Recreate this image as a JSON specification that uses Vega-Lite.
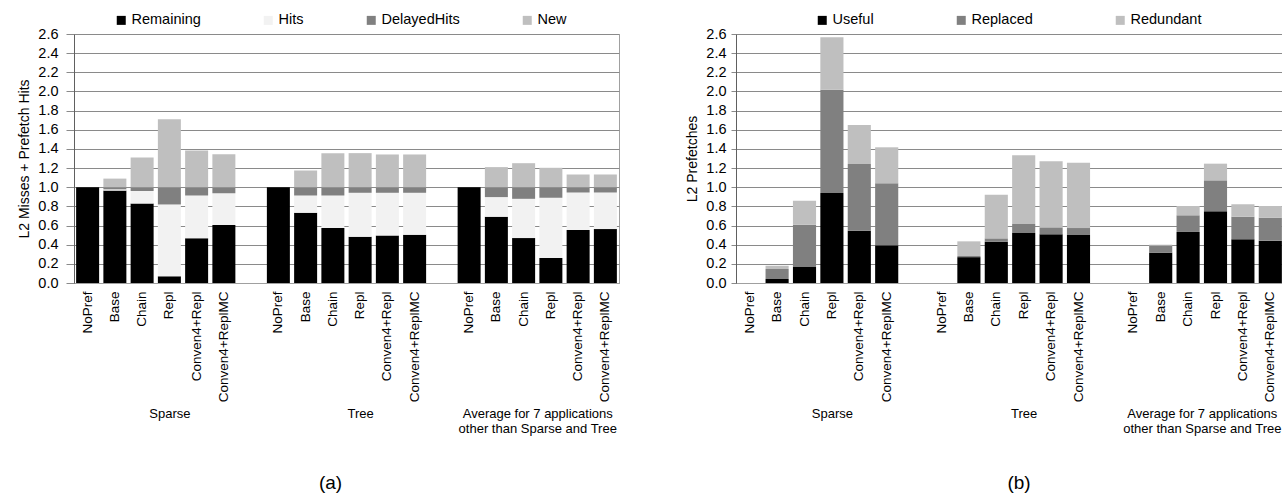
{
  "$schema": "https://vega.github.io/schema/vega-lite/v6.json",
  "padding": {"left": 17, "top": 12, "right": 0, "bottom": 0},
  "spacing": 65,
  "resolve": {"scale": {"color": "independent"}, "legend": {"color": "independent"}},
  "datasets": {
    "a": [
      {"app": "Sparse", "cfg": "NoPref", "part": "Remaining", "value": 1.0},
      {"app": "Sparse", "cfg": "Base", "part": "Remaining", "value": 0.965},
      {"app": "Sparse", "cfg": "Base", "part": "Hits", "value": 0.013},
      {"app": "Sparse", "cfg": "Base", "part": "DelayedHits", "value": 0.022},
      {"app": "Sparse", "cfg": "Base", "part": "New", "value": 0.09},
      {"app": "Sparse", "cfg": "Chain", "part": "Remaining", "value": 0.83},
      {"app": "Sparse", "cfg": "Chain", "part": "Hits", "value": 0.13},
      {"app": "Sparse", "cfg": "Chain", "part": "DelayedHits", "value": 0.04},
      {"app": "Sparse", "cfg": "Chain", "part": "New", "value": 0.31},
      {"app": "Sparse", "cfg": "Repl", "part": "Remaining", "value": 0.07},
      {"app": "Sparse", "cfg": "Repl", "part": "Hits", "value": 0.75},
      {"app": "Sparse", "cfg": "Repl", "part": "DelayedHits", "value": 0.18},
      {"app": "Sparse", "cfg": "Repl", "part": "New", "value": 0.71},
      {"app": "Sparse", "cfg": "Conven4+Repl", "part": "Remaining", "value": 0.466},
      {"app": "Sparse", "cfg": "Conven4+Repl", "part": "Hits", "value": 0.448},
      {"app": "Sparse", "cfg": "Conven4+Repl", "part": "DelayedHits", "value": 0.086},
      {"app": "Sparse", "cfg": "Conven4+Repl", "part": "New", "value": 0.383},
      {"app": "Sparse", "cfg": "Conven4+ReplMC", "part": "Remaining", "value": 0.605},
      {"app": "Sparse", "cfg": "Conven4+ReplMC", "part": "Hits", "value": 0.333},
      {"app": "Sparse", "cfg": "Conven4+ReplMC", "part": "DelayedHits", "value": 0.062},
      {"app": "Sparse", "cfg": "Conven4+ReplMC", "part": "New", "value": 0.345},
      {"app": "Tree", "cfg": "NoPref", "part": "Remaining", "value": 1.0},
      {"app": "Tree", "cfg": "Base", "part": "Remaining", "value": 0.733},
      {"app": "Tree", "cfg": "Base", "part": "Hits", "value": 0.181},
      {"app": "Tree", "cfg": "Base", "part": "DelayedHits", "value": 0.086},
      {"app": "Tree", "cfg": "Base", "part": "New", "value": 0.175},
      {"app": "Tree", "cfg": "Chain", "part": "Remaining", "value": 0.574},
      {"app": "Tree", "cfg": "Chain", "part": "Hits", "value": 0.34},
      {"app": "Tree", "cfg": "Chain", "part": "DelayedHits", "value": 0.086},
      {"app": "Tree", "cfg": "Chain", "part": "New", "value": 0.356},
      {"app": "Tree", "cfg": "Repl", "part": "Remaining", "value": 0.483},
      {"app": "Tree", "cfg": "Repl", "part": "Hits", "value": 0.459},
      {"app": "Tree", "cfg": "Repl", "part": "DelayedHits", "value": 0.058},
      {"app": "Tree", "cfg": "Repl", "part": "New", "value": 0.356},
      {"app": "Tree", "cfg": "Conven4+Repl", "part": "Remaining", "value": 0.497},
      {"app": "Tree", "cfg": "Conven4+Repl", "part": "Hits", "value": 0.445},
      {"app": "Tree", "cfg": "Conven4+Repl", "part": "DelayedHits", "value": 0.058},
      {"app": "Tree", "cfg": "Conven4+Repl", "part": "New", "value": 0.342},
      {"app": "Tree", "cfg": "Conven4+ReplMC", "part": "Remaining", "value": 0.504},
      {"app": "Tree", "cfg": "Conven4+ReplMC", "part": "Hits", "value": 0.438},
      {"app": "Tree", "cfg": "Conven4+ReplMC", "part": "DelayedHits", "value": 0.058},
      {"app": "Tree", "cfg": "Conven4+ReplMC", "part": "New", "value": 0.342},
      {"app": "Avg", "cfg": "NoPref", "part": "Remaining", "value": 1.0},
      {"app": "Avg", "cfg": "Base", "part": "Remaining", "value": 0.692},
      {"app": "Avg", "cfg": "Base", "part": "Hits", "value": 0.205},
      {"app": "Avg", "cfg": "Base", "part": "DelayedHits", "value": 0.103},
      {"app": "Avg", "cfg": "Base", "part": "New", "value": 0.21},
      {"app": "Avg", "cfg": "Chain", "part": "Remaining", "value": 0.469},
      {"app": "Avg", "cfg": "Chain", "part": "Hits", "value": 0.41},
      {"app": "Avg", "cfg": "Chain", "part": "DelayedHits", "value": 0.121},
      {"app": "Avg", "cfg": "Chain", "part": "New", "value": 0.251},
      {"app": "Avg", "cfg": "Repl", "part": "Remaining", "value": 0.261},
      {"app": "Avg", "cfg": "Repl", "part": "Hits", "value": 0.629},
      {"app": "Avg", "cfg": "Repl", "part": "DelayedHits", "value": 0.11},
      {"app": "Avg", "cfg": "Repl", "part": "New", "value": 0.203},
      {"app": "Avg", "cfg": "Conven4+Repl", "part": "Remaining", "value": 0.553},
      {"app": "Avg", "cfg": "Conven4+Repl", "part": "Hits", "value": 0.392},
      {"app": "Avg", "cfg": "Conven4+Repl", "part": "DelayedHits", "value": 0.055},
      {"app": "Avg", "cfg": "Conven4+Repl", "part": "New", "value": 0.133},
      {"app": "Avg", "cfg": "Conven4+ReplMC", "part": "Remaining", "value": 0.563},
      {"app": "Avg", "cfg": "Conven4+ReplMC", "part": "Hits", "value": 0.382},
      {"app": "Avg", "cfg": "Conven4+ReplMC", "part": "DelayedHits", "value": 0.055},
      {"app": "Avg", "cfg": "Conven4+ReplMC", "part": "New", "value": 0.133}
    ],
    "b": [
      {"app": "Sparse", "cfg": "Base", "part": "Useful", "value": 0.042},
      {"app": "Sparse", "cfg": "Base", "part": "Replaced", "value": 0.104},
      {"app": "Sparse", "cfg": "Base", "part": "Redundant", "value": 0.035},
      {"app": "Sparse", "cfg": "Chain", "part": "Useful", "value": 0.167},
      {"app": "Sparse", "cfg": "Chain", "part": "Replaced", "value": 0.442},
      {"app": "Sparse", "cfg": "Chain", "part": "Redundant", "value": 0.251},
      {"app": "Sparse", "cfg": "Repl", "part": "Useful", "value": 0.94},
      {"app": "Sparse", "cfg": "Repl", "part": "Replaced", "value": 1.079},
      {"app": "Sparse", "cfg": "Repl", "part": "Redundant", "value": 0.546},
      {"app": "Sparse", "cfg": "Conven4+Repl", "part": "Useful", "value": 0.546},
      {"app": "Sparse", "cfg": "Conven4+Repl", "part": "Replaced", "value": 0.697},
      {"app": "Sparse", "cfg": "Conven4+Repl", "part": "Redundant", "value": 0.407},
      {"app": "Sparse", "cfg": "Conven4+ReplMC", "part": "Useful", "value": 0.393},
      {"app": "Sparse", "cfg": "Conven4+ReplMC", "part": "Replaced", "value": 0.648},
      {"app": "Sparse", "cfg": "Conven4+ReplMC", "part": "Redundant", "value": 0.376},
      {"app": "Tree", "cfg": "Base", "part": "Useful", "value": 0.27},
      {"app": "Tree", "cfg": "Base", "part": "Replaced", "value": 0.012},
      {"app": "Tree", "cfg": "Base", "part": "Redundant", "value": 0.153},
      {"app": "Tree", "cfg": "Chain", "part": "Useful", "value": 0.43},
      {"app": "Tree", "cfg": "Chain", "part": "Replaced", "value": 0.036},
      {"app": "Tree", "cfg": "Chain", "part": "Redundant", "value": 0.456},
      {"app": "Tree", "cfg": "Repl", "part": "Useful", "value": 0.522},
      {"app": "Tree", "cfg": "Repl", "part": "Replaced", "value": 0.094},
      {"app": "Tree", "cfg": "Repl", "part": "Redundant", "value": 0.717},
      {"app": "Tree", "cfg": "Conven4+Repl", "part": "Useful", "value": 0.508},
      {"app": "Tree", "cfg": "Conven4+Repl", "part": "Replaced", "value": 0.073},
      {"app": "Tree", "cfg": "Conven4+Repl", "part": "Redundant", "value": 0.689},
      {"app": "Tree", "cfg": "Conven4+ReplMC", "part": "Useful", "value": 0.501},
      {"app": "Tree", "cfg": "Conven4+ReplMC", "part": "Replaced", "value": 0.073},
      {"app": "Tree", "cfg": "Conven4+ReplMC", "part": "Redundant", "value": 0.682},
      {"app": "Avg", "cfg": "Base", "part": "Useful", "value": 0.317},
      {"app": "Avg", "cfg": "Base", "part": "Replaced", "value": 0.073},
      {"app": "Avg", "cfg": "Base", "part": "Redundant", "value": 0.01},
      {"app": "Avg", "cfg": "Chain", "part": "Useful", "value": 0.533},
      {"app": "Avg", "cfg": "Chain", "part": "Replaced", "value": 0.174},
      {"app": "Avg", "cfg": "Chain", "part": "Redundant", "value": 0.097},
      {"app": "Avg", "cfg": "Repl", "part": "Useful", "value": 0.748},
      {"app": "Avg", "cfg": "Repl", "part": "Replaced", "value": 0.324},
      {"app": "Avg", "cfg": "Repl", "part": "Redundant", "value": 0.174},
      {"app": "Avg", "cfg": "Conven4+Repl", "part": "Useful", "value": 0.456},
      {"app": "Avg", "cfg": "Conven4+Repl", "part": "Replaced", "value": 0.237},
      {"app": "Avg", "cfg": "Conven4+Repl", "part": "Redundant", "value": 0.128},
      {"app": "Avg", "cfg": "Conven4+ReplMC", "part": "Useful", "value": 0.442},
      {"app": "Avg", "cfg": "Conven4+ReplMC", "part": "Replaced", "value": 0.24},
      {"app": "Avg", "cfg": "Conven4+ReplMC", "part": "Redundant", "value": 0.122}
    ]
  },
  "hconcat": [
    {
      "width": 545,
      "height": 249,
      "data": {"name": "a"},
      "transform": [{"calculate": "datum.app + '|' + datum.cfg", "as": "key"}],
      "title": {"text": "(a)", "orient": "bottom", "anchor": "middle", "frame": "group", "dx": -16, "offset": 39, "fontSize": 19, "fontWeight": "normal", "color": "#000"},
      "layer": [
        {
          "mark": {"type": "bar"},
          "encoding": {
            "x": {
              "field": "key", "type": "nominal",
              "scale": {"domain": ["Sparse|NoPref", "Sparse|Base", "Sparse|Chain", "Sparse|Repl", "Sparse|Conven4+Repl", "Sparse|Conven4+ReplMC", "gap1", "Tree|NoPref", "Tree|Base", "Tree|Chain", "Tree|Repl", "Tree|Conven4+Repl", "Tree|Conven4+ReplMC", "gap2", "Avg|NoPref", "Avg|Base", "Avg|Chain", "Avg|Repl", "Avg|Conven4+Repl", "Avg|Conven4+ReplMC"], "paddingInner": 0.156, "paddingOuter": 0.078},
              "axis": {"title": null, "labelAngle": 270, "labelFontSize": 13.5, "ticks": false, "labelPadding": 8, "domainColor": "#a0a0a0", "labelExpr": "indexof(datum.value, '|') > 0 ? split(datum.value, '|')[1] : ''"}
            },
            "y": {
              "field": "value", "type": "quantitative", "stack": "zero",
              "scale": {"domain": [0, 2.6], "nice": false},
              "axis": {"values": [0, 0.2, 0.4, 0.6, 0.8, 1.0, 1.2, 1.4, 1.6, 1.8, 2.0, 2.2, 2.4, 2.6], "format": ".1f", "title": "L2 Misses + Prefetch Hits", "titleFontSize": 14, "titleFontWeight": "normal", "titlePadding": 6, "labelFontSize": 14.5, "tickSize": 8, "labelPadding": 8, "gridColor": "#8a8a8a", "tickColor": "#8a8a8a", "domainColor": "#606060"}
            },
            "color": {
              "field": "part", "type": "nominal",
              "sort": ["Remaining", "Hits", "DelayedHits", "New"],
              "scale": {"domain": ["Remaining", "Hits", "DelayedHits", "New"], "range": ["#000000", "#f2f2f2", "#808080", "#bfbfbf"]},
              "legend": {"orient": "none", "legendX": 40, "legendY": -21, "direction": "horizontal", "title": null, "symbolType": "square", "symbolSize": 81, "symbolStrokeWidth": 0, "labelFontSize": 14.5, "columnPadding": 60, "labelOffset": 3}
            },
            "order": {"field": "partIndex"}
          }
        },
        {
          "mark": {"type": "text"},
          "encoding": {
            "x": {
              "datum": 0, "type": "quantitative",
              "scale": {"domain": [0, 20], "nice": false, "zero": false},
              "axis": {"orient": "bottom", "values": [3.5, 10.5, 17], "title": null, "grid": false, "domain": false, "ticks": false, "labelFlush": false, "labelOverlap": false, "labelAlign": "center", "labelFontSize": 13, "labelLineHeight": 15, "labelPadding": 124, "labelLimit": 300,
                "labelExpr": "datum.value == 3.5 ? 'Sparse' : (datum.value == 10.5 ? 'Tree' : ['Average for 7 applications', 'other than Sparse and Tree'])"}
            },
            "text": {"value": ""}
          }
        }
      ],
      "resolve": {"scale": {"x": "independent"}, "axis": {"x": "independent"}}
    },
    {
      "width": 548,
      "height": 249,
      "data": {"name": "b"},
      "transform": [{"calculate": "datum.app + '|' + datum.cfg", "as": "key"}],
      "title": {"text": "(b)", "orient": "bottom", "anchor": "middle", "frame": "group", "dx": 9, "offset": 39, "fontSize": 19, "fontWeight": "normal", "color": "#000"},
      "layer": [
        {
          "mark": {"type": "bar"},
          "encoding": {
            "x": {
              "field": "key", "type": "nominal",
              "scale": {"domain": ["Sparse|NoPref", "Sparse|Base", "Sparse|Chain", "Sparse|Repl", "Sparse|Conven4+Repl", "Sparse|Conven4+ReplMC", "gap1", "Tree|NoPref", "Tree|Base", "Tree|Chain", "Tree|Repl", "Tree|Conven4+Repl", "Tree|Conven4+ReplMC", "gap2", "Avg|NoPref", "Avg|Base", "Avg|Chain", "Avg|Repl", "Avg|Conven4+Repl", "Avg|Conven4+ReplMC"], "paddingInner": 0.156, "paddingOuter": 0.078},
              "axis": {"title": null, "labelAngle": 270, "labelFontSize": 13.5, "ticks": false, "labelPadding": 8, "domainColor": "#a0a0a0", "labelExpr": "indexof(datum.value, '|') > 0 ? split(datum.value, '|')[1] : ''"}
            },
            "y": {
              "field": "value", "type": "quantitative", "stack": "zero",
              "scale": {"domain": [0, 2.6], "nice": false},
              "axis": {"values": [0, 0.2, 0.4, 0.6, 0.8, 1.0, 1.2, 1.4, 1.6, 1.8, 2.0, 2.2, 2.4, 2.6], "format": ".1f", "title": "L2 Prefetches", "titleFontSize": 14, "titleFontWeight": "normal", "titlePadding": 6, "labelFontSize": 14.5, "tickSize": 5, "labelPadding": 5, "gridColor": "#8a8a8a", "tickColor": "#8a8a8a", "domainColor": "#606060"}
            },
            "color": {
              "field": "part", "type": "nominal",
              "sort": ["Useful", "Replaced", "Redundant"],
              "scale": {"domain": ["Useful", "Replaced", "Redundant"], "range": ["#000000", "#808080", "#bfbfbf"]},
              "legend": {"orient": "none", "legendX": 79, "legendY": -21, "direction": "horizontal", "title": null, "symbolType": "square", "symbolSize": 81, "symbolStrokeWidth": 0, "labelFontSize": 14.5, "columnPadding": 80, "labelOffset": 3}
            },
            "order": {"field": "partIndex"}
          }
        },
        {
          "mark": {"type": "text"},
          "encoding": {
            "x": {
              "datum": 0, "type": "quantitative",
              "scale": {"domain": [0, 20], "nice": false, "zero": false},
              "axis": {"orient": "bottom", "values": [3.5, 10.5, 17], "title": null, "grid": false, "domain": false, "ticks": false, "labelFlush": false, "labelOverlap": false, "labelAlign": "center", "labelFontSize": 13, "labelLineHeight": 15, "labelPadding": 124, "labelLimit": 300,
                "labelExpr": "datum.value == 3.5 ? 'Sparse' : (datum.value == 10.5 ? 'Tree' : ['Average for 7 applications', 'other than Sparse and Tree'])"}
            },
            "text": {"value": ""}
          }
        }
      ],
      "resolve": {"scale": {"x": "independent"}, "axis": {"x": "independent"}}
    }
  ],
  "config": {
    "font": "Liberation Sans",
    "view": {"stroke": "#a0a0a0"},
    "axis": {"labelColor": "#000000", "titleColor": "#000000"},
    "legend": {"labelColor": "#000000"}
  }
}
